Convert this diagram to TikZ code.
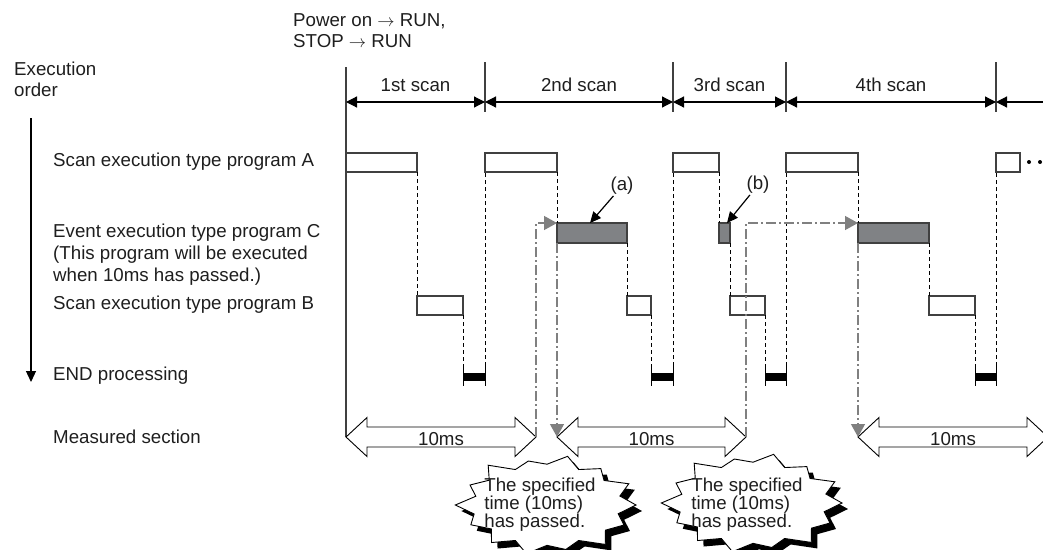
\documentclass[tikz,border=0pt]{standalone}
\usepackage{fontspec}
\setmainfont{Liberation Sans}
\usetikzlibrary{arrows.meta}
\definecolor{ln}{HTML}{404040}
\definecolor{gr}{HTML}{808080}
\definecolor{cfill}{HTML}{808285}
\definecolor{txt}{HTML}{1E1E1E}
\newcommand\measarrow[3]{%
  \draw[marr] (#2,437) -- (#2+21,417.5) -- (#2+21,427) -- (#3-21,427) -- (#3-21,417.5) -- (#3,437)
    -- (#3-21,456.5) -- (#3-21,447) -- (#2+21,447) -- (#2+21,456.5) -- cycle;
  \node (#1) at ({(#2+#3)/2},439) {10ms};}
\def\burstlist{12.86/0.82, 25.71/0.96, 38.57/0.84, 51.43/1.05, 64.29/0.82, 77.14/0.95, 90/0.84,
  102.86/1.04, 115.71/0.82, 128.57/1.00, 141.43/0.80, 154.29/0.95, 167.14/0.84, 180/1.03,
  192.86/0.82, 205.71/0.96, 218.57/0.83, 231.43/1.06, 244.29/0.82, 257.14/0.94, 270/0.85,
  282.86/1.04, 295.71/0.82, 308.57/0.97, 321.43/0.82, 334.29/1.02, 347.14/0.84}
\begin{document}
\begin{tikzpicture}[x=1pt,y=-1pt,
  font=\fontsize{18.7}{21}\selectfont, text=txt,
  box/.style={draw=ln, line width=1.2pt, fill=white, inner sep=0pt, outer sep=0pt, anchor=north west},
  cbox/.style={box, fill=cfill},
  endbar/.style={draw=black, fill=black, line width=0.6pt, inner sep=0pt, outer sep=0pt, anchor=north west, minimum height=7pt},
  tk/.style={draw=black, line width=1pt},
  dl/.style={draw=black, line width=0.8pt, dash pattern=on 4pt off 3pt},
  gl/.style={draw=gr, line width=1.3pt, dash pattern=on 10pt off 3pt on 2pt off 3pt},
  garr/.style={-{Triangle[length=13pt,width=14pt,fill=gr,color=gr]}},
  sep/.style={draw=ln, line width=1.2pt},
  dim/.style={draw=black, line width=1.2pt, {Triangle[length=11pt,width=11pt]}-{Triangle[length=11pt,width=11pt]}},
  marr/.style={draw=black, line width=0.9pt, fill=white, line join=miter},
  annarr/.style={draw=black, line width=1.2pt, -{Triangle[length=11pt,width=10pt]}},
  lbl/.style={anchor=west, align=left, inner sep=0pt},
  burstpic/.pic={
    \fill[black] (95,6) \foreach \a/\r in \burstlist { -- ({6+89*\r*cos(\a)},{6+48*\r*sin(\a)}) } -- cycle;
    \filldraw[fill=white, draw=black, line width=0.9pt, line join=miter]
      (89,0) \foreach \a/\r in \burstlist { -- ({89*\r*cos(\a)},{48*\r*sin(\a)}) } -- cycle;
  },
  btxt/.style={align=left, inner sep=0pt, font=\fontsize{18.7}{18}\selectfont}
]
\useasboundingbox (0,0) rectangle (1043,549);
\clip (0,0) rectangle (1043,549);

% top-left texts
\node[lbl] (pw) at (293,31) {Power on $\rightarrow$ RUN,\\STOP $\rightarrow$ RUN};
\node[lbl] (eo) at (14,79) {Execution\\order};
\coordinate (eoT) at (31,118);
\coordinate (eoB) at (31,382);
\draw[line width=1.2pt, -{Triangle[length=11pt,width=10pt]}] (eoT) -- (eoB);

% row labels
\node[lbl] (la) at (53,162) {Scan execution type program A};
\node[lbl, font=\fontsize{18.7}{22}\selectfont] (lc) at (53,255) {Event execution type program C\\(This program will be executed\\when 10ms has passed.)};
\node[lbl] (lb) at (53,305) {Scan execution type program B};
\node[lbl] (le) at (53,376) {END processing};
\node[lbl] (lm) at (53,437) {Measured section};

% scan separators and dimension arrows
\coordinate (s0) at (346,102);
\coordinate (s1) at (485,102);
\coordinate (s2) at (673,102);
\coordinate (s3) at (786,102);
\coordinate (s4) at (996,102);
\coordinate (s5) at (1060,102);
\draw[sep] (346,67) -- (346,437);
\foreach \x in {485,673,786,996} \draw[sep] (\x,62) -- (\x,112);
\draw[dim] (s0) -- (s1);
\draw[dim] (s1) -- (s2);
\draw[dim] (s2) -- (s3);
\draw[dim] (s3) -- (s4);
\draw[dim] (s4) -- (s5);
\node (sc1) at (415.5,85) {1st scan};
\node (sc2) at (579,85) {2nd scan};
\node (sc3) at (729.5,85) {3rd scan};
\node (sc4) at (891,85) {4th scan};

% program A boxes
\node[box, minimum width=71pt, minimum height=19pt] (a1) at (346,153) {};
\node[box, minimum width=72pt, minimum height=19pt] (a2) at (485,153) {};
\node[box, minimum width=46pt, minimum height=19pt] (a3) at (673,153) {};
\node[box, minimum width=72pt, minimum height=19pt] (a4) at (786,153) {};
\node[box, minimum width=24pt, minimum height=19pt] (a5) at (996,153) {};
\fill[black] (1029,162) circle (2pt) (1040,162) circle (2pt);

% program C boxes
\node[cbox, minimum width=70pt, minimum height=20pt] (c2) at (557,223) {};
\node[cbox, minimum width=11pt, minimum height=20pt] (c3) at (719,223) {};
\node[cbox, minimum width=71pt, minimum height=20pt] (c4) at (858,223) {};

% program B boxes
\node[box, minimum width=46pt, minimum height=19pt] (b1) at (417,296) {};
\node[box, minimum width=24pt, minimum height=19pt] (b2) at (627,296) {};
\node[box, minimum width=35pt, minimum height=19pt] (b3) at (730,296) {};
\node[box, minimum width=46pt, minimum height=19pt] (b4) at (929,296) {};

% END bars
\node[endbar, minimum width=22pt] (e1) at (463,373) {};
\node[endbar, minimum width=22pt] (e2) at (651,373) {};
\node[endbar, minimum width=21pt] (e3) at (765,373) {};
\node[endbar, minimum width=21pt] (e4) at (975,373) {};
\foreach \e in {e1,e2,e3,e4} {
  \draw[tk] ([yshift=7pt]\e.north west) -- ([yshift=-6pt]\e.south west);
  \draw[tk] ([yshift=7pt]\e.north east) -- ([yshift=-6pt]\e.south east);
}

% dashed flow lines
\draw[dl] (a1.south east) -- (b1.north west);
\draw[dl] (b1.south east) -- (e1.north west);
\draw[dl] (e1.north east) -- (a2.south west);
\draw[dl] (a2.south east) -- (c2.north west);
\draw[dl] (c2.south east) -- (b2.north west);
\draw[dl] (b2.south east) -- (e2.north west);
\draw[dl] (e2.north east) -- (a3.south west);
\draw[dl] (a3.south east) -- (c3.north west);
\draw[dl] (c3.south east) -- (b3.north west);
\draw[dl] (b3.south east) -- (e3.north west);
\draw[dl] (e3.north east) -- (a4.south west);
\draw[dl] (a4.south east) -- (c4.north west);
\draw[dl] (c4.south east) -- (b4.north west);
\draw[dl] (b4.south east) -- (e4.north west);
\draw[dl] (e4.north east) -- (a5.south west);

% measured sections
\measarrow{t1}{346}{536}
\measarrow{t2}{557}{746}
\measarrow{t3}{858}{1048}
\coordinate (m1R) at (536,437);
\coordinate (m2L) at (557,437);
\coordinate (m2R) at (746,437);
\coordinate (m3L) at (858,437);

% gray timing arrows
\draw[gl,garr] (m1R) |- (c2.north west);
\draw[gl,garr] (c2.south west) -- (m2L);
\draw[gl,garr] (m2R) |- (c4.north west);
\draw[gl,garr] (c4.south west) -- (m3L);

% annotations (a), (b)
\node[inner sep=1pt] (na) at (622,186) {(a)};
\node[inner sep=1pt] (nb) at (758,185) {(b)};
\coordinate (pa) at (590,223);
\coordinate (pb) at (727,223);
\draw[annarr] (na) -- (pa);
\draw[annarr] (nb) -- (pb);

% bursts
\pic at (547,505) {burstpic};
\node[btxt] (bt1) at (540,505) {The specified\\time (10ms)\\has passed.};
\pic at (753,503) {burstpic};
\node[btxt] (bt2) at (747,505) {The specified\\time (10ms)\\has passed.};
\end{tikzpicture}
\end{document}
